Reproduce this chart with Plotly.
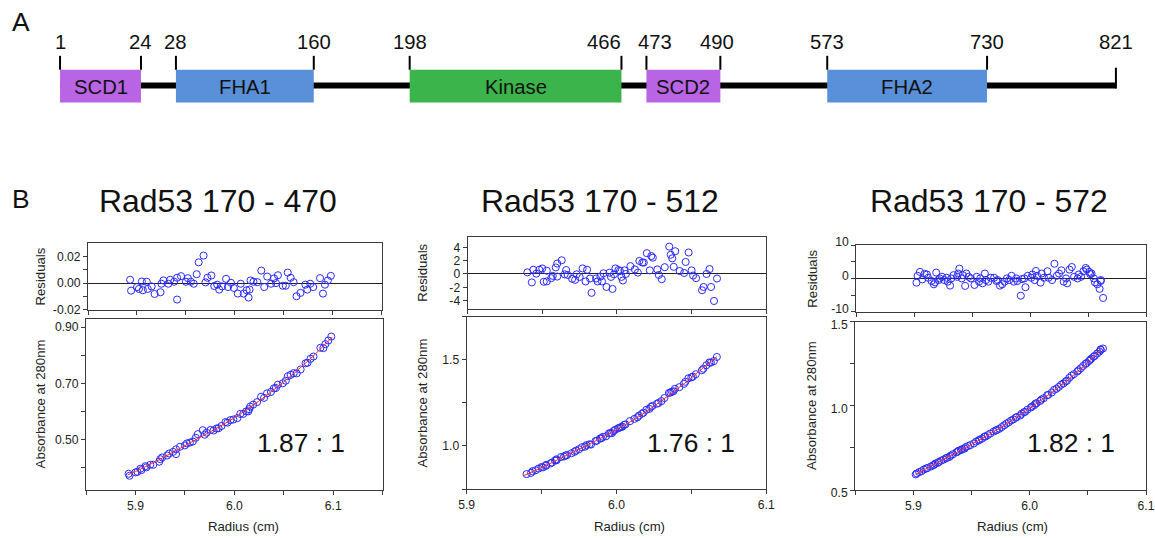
import numpy as np
import plotly.graph_objects as go

# ---------------- Panel A: Rad53 domain architecture ----------------
domain_names = ["SCD1", "FHA1", "Kinase", "SCD2", "FHA2"]
domain_start = [1, 28, 198, 473, 573]
domain_end = [24, 160, 466, 490, 730]
domain_colors = ["#b964e5", "#5a90d9", "#3bb44b", "#b964e5", "#5a90d9"]
protein_length = 821
boundary_labels = [1, 24, 28, 160, 198, 466, 473, 490, 573, 730, 821]
# display positions of the boundaries (diagram is not drawn to scale)
boundary_display = [60, 141, 176, 314, 410, 622, 647, 721, 828, 988, 1117]
# small horizontal nudges of the number labels so that they do not collide
label_nudge = [0, 0, 0, 0, 0, -17, 9, -3, 0, 0, 0]

# ---------------- Panel B: sedimentation equilibrium ----------------
titles = ["Rad53 170 - 470", "Rad53 170 - 512", "Rad53 170 - 572"]
ratios = ["1.87 : 1", "1.76 : 1", "1.82 : 1"]

p1_x = [5.893, 5.894, 5.900, 5.902, 5.905, 5.906, 5.910, 5.911, 5.915, 5.918,
        5.924, 5.925, 5.927, 5.932, 5.934, 5.938, 5.941, 5.941, 5.945, 5.950,
        5.952, 5.955, 5.958, 5.961, 5.963, 5.968, 5.970, 5.972, 5.976, 5.979,
        5.982, 5.984, 5.987, 5.991, 5.993, 5.996, 5.999, 6.003, 6.006, 6.009,
        6.012, 6.014, 6.015, 6.016, 6.019, 6.023, 6.027, 6.030, 6.033, 6.037,
        6.040, 6.042, 6.044, 6.049, 6.052, 6.054, 6.057, 6.060, 6.063, 6.067,
        6.072, 6.074, 6.077, 6.080, 6.087, 6.090, 6.092, 6.095, 6.098]
p1_abs = [0.378, 0.371, 0.383, 0.385, 0.396, 0.391, 0.405, 0.401, 0.410, 0.410,
          0.421, 0.430, 0.436, 0.443, 0.450, 0.456, 0.465, 0.448, 0.474, 0.479,
          0.486, 0.489, 0.493, 0.506, 0.519, 0.533, 0.517, 0.524, 0.534, 0.532,
          0.539, 0.540, 0.548, 0.562, 0.560, 0.569, 0.571, 0.576, 0.591, 0.591,
          0.600, 0.600, 0.608, 0.617, 0.624, 0.633, 0.652, 0.648, 0.664, 0.669,
          0.682, 0.683, 0.695, 0.700, 0.709, 0.725, 0.730, 0.736, 0.735, 0.749,
          0.771, 0.773, 0.787, 0.795, 0.826, 0.825, 0.839, 0.852, 0.866]
p1_res = [0.0025, -0.0057, -0.0030, -0.0044, 0.0012, -0.0054, 0.0010, -0.0044, -0.0025, -0.0082,
          -0.0069, -0.0005, 0.0020, -0.0005, 0.0025, 0.0010, 0.0040, -0.0124, 0.0052, 0.0010,
          0.0037, 0.0010, -0.0005, 0.0067, 0.0156, 0.0207, 0.0005, 0.0040, 0.0057, -0.0022,
          -0.0012, -0.0049, -0.0025, 0.0032, -0.0030, 0.0002, -0.0037, -0.0079, -0.0005, -0.0079,
          -0.0054, -0.0109, -0.0049, 0.0020, 0.0010, 0.0007, 0.0094, -0.0030, 0.0049, -0.0005,
          0.0035, 0.0000, 0.0059, -0.0020, -0.0020, 0.0079, 0.0040, 0.0007, -0.0099, -0.0074,
          -0.0012, -0.0049, -0.0005, -0.0030, 0.0037, -0.0079, -0.0012, 0.0020, 0.0054]
p1_fit_x = [5.892, 5.900, 5.925, 5.950, 5.975, 6.000, 6.025, 6.050, 6.075, 6.099]
p1_fit_y = [0.374, 0.386, 0.430, 0.478, 0.526, 0.577, 0.637, 0.705, 0.781, 0.864]

p2_x = [5.940, 5.943, 5.944, 5.946, 5.948, 5.950, 5.951, 5.953, 5.953, 5.956,
        5.957, 5.959, 5.960, 5.960, 5.963, 5.965, 5.966, 5.967, 5.970, 5.972,
        5.973, 5.975, 5.977, 5.979, 5.980, 5.982, 5.983, 5.986, 5.987, 5.989,
        5.990, 5.991, 5.993, 5.995, 5.996, 5.997, 5.998, 5.999, 6.001, 6.002,
        6.003, 6.004, 6.005, 6.006, 6.009, 6.012, 6.014, 6.015, 6.017, 6.018,
        6.020, 6.022, 6.023, 6.024, 6.027, 6.028, 6.030, 6.032, 6.035, 6.036,
        6.037, 6.038, 6.039, 6.042, 6.045, 6.046, 6.048, 6.050, 6.051, 6.053,
        6.057, 6.058, 6.060, 6.062, 6.063, 6.065, 6.067]
p2_abs = [0.837, 0.844, 0.854, 0.859, 0.869, 0.878, 0.876, 0.885, 0.890, 0.899,
          0.904, 0.916, 0.917, 0.923, 0.936, 0.939, 0.945, 0.947, 0.958, 0.966,
          0.973, 0.981, 0.993, 0.996, 1.005, 1.010, 1.008, 1.028, 1.031, 1.043,
          1.045, 1.053, 1.056, 1.073, 1.075, 1.074, 1.086, 1.093, 1.102, 1.106,
          1.109, 1.112, 1.122, 1.125, 1.144, 1.157, 1.166, 1.176, 1.187, 1.193,
          1.210, 1.215, 1.227, 1.232, 1.245, 1.249, 1.260, 1.278, 1.307, 1.310,
          1.315, 1.317, 1.331, 1.341, 1.360, 1.372, 1.392, 1.398, 1.402, 1.416,
          1.439, 1.448, 1.468, 1.484, 1.483, 1.492, 1.516]
p2_res = [0.24, -1.27, 0.63, 0.05, 0.63, 0.83, -1.17, -1.12, 0.49, -0.63,
          -0.29, 0.98, -0.39, 1.56, 2.05, -0.05, 0.59, -0.15, -0.73, -0.88,
          -0.05, -0.44, 0.83, -1.12, 0.63, -0.68, -2.83, -0.68, -1.12, -0.39,
          -1.12, 0.10, -1.95, 0.20, -0.44, -2.24, -0.05, 0.83, 0.59, 0.44,
          -0.44, -0.98, 0.54, 0.00, 1.17, 0.68, 0.20, 1.95, 1.71, 1.71,
          3.12, 0.54, 2.68, 2.44, 0.68, -0.15, -0.78, 1.02, 4.10, 2.88,
          2.34, 1.07, 3.41, 0.44, 0.15, 1.80, 3.22, 0.54, -0.24, -0.63,
          -2.44, -1.95, 0.00, 0.73, -1.95, -4.05, -0.68]
p2_fit_x = [5.938, 5.950, 5.970, 5.985, 6.000, 6.015, 6.030, 6.045, 6.055, 6.067]
p2_fit_y = [0.828, 0.875, 0.960, 1.025, 1.095, 1.170, 1.262, 1.360, 1.432, 1.518]

p3_x = [5.902, 5.903, 5.905, 5.907, 5.909, 5.911, 5.912, 5.915, 5.917, 5.918,
        5.919, 5.921, 5.922, 5.924, 5.926, 5.928, 5.929, 5.931, 5.932, 5.934,
        5.937, 5.938, 5.939, 5.941, 5.942, 5.944, 5.945, 5.947, 5.949, 5.952,
        5.954, 5.956, 5.957, 5.959, 5.961, 5.962, 5.964, 5.966, 5.969, 5.971,
        5.972, 5.974, 5.976, 5.978, 5.980, 5.982, 5.984, 5.986, 5.988, 5.989,
        5.992, 5.993, 5.995, 5.996, 5.998, 6.001, 6.002, 6.004, 6.005, 6.006,
        6.009, 6.010, 6.012, 6.015, 6.016, 6.019, 6.021, 6.023, 6.025, 6.027,
        6.029, 6.031, 6.032, 6.034, 6.036, 6.038, 6.041, 6.042, 6.044, 6.046,
        6.048, 6.049, 6.051, 6.052, 6.053, 6.055, 6.056, 6.058, 6.060, 6.061,
        6.061, 6.063]
p3_abs = [0.593, 0.599, 0.607, 0.612, 0.622, 0.628, 0.631, 0.640, 0.647, 0.651,
          0.658, 0.662, 0.667, 0.675, 0.681, 0.689, 0.692, 0.697, 0.704, 0.713,
          0.724, 0.728, 0.734, 0.738, 0.743, 0.746, 0.755, 0.761, 0.767, 0.777,
          0.788, 0.794, 0.799, 0.805, 0.817, 0.818, 0.826, 0.835, 0.847, 0.854,
          0.858, 0.864, 0.874, 0.884, 0.894, 0.902, 0.913, 0.920, 0.930, 0.934,
          0.943, 0.953, 0.962, 0.964, 0.977, 0.990, 0.996, 1.004, 1.013, 1.016,
          1.029, 1.037, 1.045, 1.063, 1.065, 1.079, 1.095, 1.101, 1.112, 1.125,
          1.133, 1.145, 1.149, 1.166, 1.179, 1.188, 1.204, 1.211, 1.223, 1.237,
          1.249, 1.254, 1.266, 1.273, 1.280, 1.292, 1.297, 1.310, 1.322, 1.332,
          1.334, 1.340]
p3_res = [-1.27, 0.78, 1.96, -0.29, 1.37, 1.18, 0.20, -0.78, -1.76, -1.18,
          1.76, -0.49, 0.00, 0.49, -0.49, 0.20, -0.98, -2.16, 0.00, 0.98,
          0.49, 1.47, 2.94, 0.00, 0.98, -2.25, 1.47, 0.49, 0.00, -1.96,
          0.49, -0.98, 0.00, -1.47, 1.47, -0.49, -0.98, 0.20, 0.20, -0.78,
          -0.49, -2.16, -1.76, -0.98, 0.00, -0.49, 0.78, -0.98, 0.00, -0.78,
          -5.20, -0.20, 0.00, -2.65, 0.78, 0.20, 1.18, -0.49, 2.25, 0.78,
          -1.27, 1.47, 0.20, 2.16, 0.20, -0.49, 4.41, 0.78, 1.47, 2.45,
          -0.98, 0.00, -1.47, 2.65, 3.43, 0.49, 0.00, 1.18, 0.49, 2.16,
          3.14, 2.65, 1.96, 1.27, 1.47, 0.00, -1.18, -1.76, -3.14, -0.78,
          -0.49, -5.88]
p3_fit_x = [5.902, 5.925, 5.950, 5.975, 6.000, 6.025, 6.050, 6.062]
p3_fit_y = [0.594, 0.678, 0.771, 0.871, 0.985, 1.110, 1.257, 1.340]

# axis settings per panel
x_ranges = [[5.85, 6.15], [5.9, 6.1], [5.85, 6.1]]
x_ticks = [[5.85, 5.9, 5.95, 6.0, 6.05, 6.1, 6.15],
           [5.9, 5.95, 6.0, 6.05, 6.1],
           [5.85, 5.9, 5.95, 6.0, 6.05, 6.1]]
x_ticktext = [["", "5.9", "", "6.0", "", "6.1", ""],
              ["5.9", "", "6.0", "", "6.1"],
              ["", "5.9", "", "6.0", "", "6.1"]]
res_ranges = [[-0.02, 0.03], [-5.2, 5.5], [-10, 10]]
res_ticks = [[-0.02, -0.01, 0.0, 0.01, 0.02], [-4, -2, 0, 2, 4], [-10, -5, 0, 5, 10]]
res_ticktext = [["-0.02", "", "0.00", "", "0.02"], ["-4", "-2", "0", "2", "4"],
                ["-10", "", "0", "", "10"]]
abs_ranges = [[0.32, 0.93], [0.75, 1.75], [0.5, 1.5]]
abs_ticks = [[0.4, 0.5, 0.6, 0.7, 0.8, 0.9], [0.75, 1.0, 1.25, 1.5, 1.75],
             [0.5, 0.75, 1.0, 1.25, 1.5]]
abs_ticktext = [["", "0.50", "", "0.70", "", "0.90"], ["", "1.0", "", "1.5", ""],
                ["0.5", "", "1.0", "", "1.5"]]
# vertical nudges (px, positive = downwards) of tick labels to keep neighbours apart
res_label_shift = [0, 0, -3]
abs_label_shift = [0, 0, 3]

data = [(p1_x, p1_abs, p1_res, p1_fit_x, p1_fit_y),
        (p2_x, p2_abs, p2_res, p2_fit_x, p2_fit_y),
        (p3_x, p3_abs, p3_res, p3_fit_x, p3_fit_y)]

# ---------------- layout geometry ----------------
# Layout positions below are given in picture pixels (1155 x 538).  The photographed
# area carries an extra 8px frame around the page, so positions are converted to
# figure pixels with that frame taken into account.
W, H = 1155, 538
FRAME = 8
SX = (W + 2 * FRAME) / W
SY = (H + 2 * FRAME) / H
FS = SX  # font scale
FONT = "Liberation Sans, Arial, Helvetica, sans-serif"


def fx(px):
    return min(1.0, max(0.0, (px * SX - FRAME) / W))


def fy(py):
    return min(1.0, max(0.0, 1 - (py * SY - FRAME) / H))


geo = [
    dict(res_x=(88, 382), res_y=(243, 310), main_x=(86, 383), main_y=(319, 492),
         title_x=218, ratio_x=301, lab_x=40, rad_x=244),
    dict(res_x=(468, 767), res_y=(237, 309), main_x=(467, 767), main_y=(317, 491),
         title_x=601, ratio_x=692, lab_x=423, rad_x=630),
    dict(res_x=(857, 1149), res_y=(245, 312), main_x=(856, 1149), main_y=(322, 492),
         title_x=990, ratio_x=1072, lab_x=813, rad_x=1013),
]


def ax_name(kind, i):
    return kind + ("" if i == 1 else str(i))


fig = go.Figure()
layout = {}
annotations = []
marker = dict(symbol="circle-open", size=7 * FS, color="#2a2aff",
              line=dict(width=1, color="#2a2aff"))
axis_common = dict(showline=True, mirror=True, linecolor="#3a3a3a", linewidth=1,
                   ticks="outside", ticklen=4, tickcolor="#3a3a3a", showgrid=False,
                   tickfont=dict(family=FONT, size=12 * FS, color="#222"), tickmode="array",
                   fixedrange=True)

for k in range(3):
    g = geo[k]
    xs, ab, rs, fxv, fyv = data[k]
    r = 2 * k + 1
    m = 2 * k + 2
    fig.add_trace(go.Scatter(x=xs, y=rs, mode="markers", marker=marker,
                             xaxis=ax_name("x", r), yaxis=ax_name("y", r), showlegend=False))
    fig.add_trace(go.Scatter(x=xs, y=ab, mode="markers", marker=marker,
                             xaxis=ax_name("x", m), yaxis=ax_name("y", m), showlegend=False))
    fig.add_trace(go.Scatter(x=fxv, y=fyv, mode="lines",
                             line=dict(color="#ff2a2a", width=1, shape="spline"),
                             xaxis=ax_name("x", m), yaxis=ax_name("y", m), showlegend=False))

    layout[ax_name("xaxis", r)] = dict(axis_common, domain=[fx(g["res_x"][0]), fx(g["res_x"][1])],
                                       range=x_ranges[k], anchor=ax_name("y", r),
                                       tickvals=x_ticks[k], ticktext=[""] * len(x_ticks[k]),
                                       zeroline=False)
    layout[ax_name("yaxis", r)] = dict(axis_common, domain=[fy(g["res_y"][1]), fy(g["res_y"][0])],
                                       range=res_ranges[k], anchor=ax_name("x", r),
                                       tickvals=res_ticks[k], ticktext=res_ticktext[k],
                                       ticklabelshift=res_label_shift[k],
                                       zeroline=True, zerolinecolor="#222", zerolinewidth=1)
    layout[ax_name("xaxis", m)] = dict(axis_common, domain=[fx(g["main_x"][0]), fx(g["main_x"][1])],
                                       range=x_ranges[k], anchor=ax_name("y", m),
                                       tickvals=x_ticks[k], ticktext=x_ticktext[k],
                                       zeroline=False)
    layout[ax_name("yaxis", m)] = dict(axis_common, domain=[fy(g["main_y"][1]), fy(g["main_y"][0])],
                                       range=abs_ranges[k], anchor=ax_name("x", m),
                                       tickvals=abs_ticks[k], ticktext=abs_ticktext[k],
                                       ticklabelshift=abs_label_shift[k],
                                       zeroline=False)

    annotations += [
        dict(text=titles[k], x=fx(g["title_x"]), y=fy(200), xref="paper", yref="paper",
             showarrow=False, xanchor="center", yanchor="middle",
             font=dict(family=FONT, size=31.5 * FS, color="#111")),
        dict(text=ratios[k], x=fx(g["ratio_x"]), y=fy(445), xref="paper", yref="paper",
             showarrow=False, xanchor="center", yanchor="middle",
             font=dict(family=FONT, size=26 * FS, color="#111")),
        dict(text="Residuals", x=fx(g["lab_x"]), y=fy((g["res_y"][0] + g["res_y"][1]) / 2),
             xref="paper", yref="paper", showarrow=False, textangle=-90,
             xanchor="center", yanchor="middle",
             font=dict(family=FONT, size=13 * FS, color="#222")),
        dict(text="Absorbance at 280nm", x=fx(g["lab_x"]),
             y=fy((g["main_y"][0] + g["main_y"][1]) / 2), xref="paper", yref="paper",
             showarrow=False, textangle=-90, xanchor="center", yanchor="middle",
             font=dict(family=FONT, size=13 * FS, color="#222")),
        dict(text="Radius (cm)", x=fx(g["rad_x"]), y=fy(529), xref="paper", yref="paper",
             showarrow=False, xanchor="center", yanchor="middle",
             font=dict(family=FONT, size=13 * FS, color="#222")),
    ]

# ---------------- Panel A drawing (overlay axis in picture-pixel units) ----------------
layout["xaxis7"] = dict(domain=[0, 1], range=[FRAME / SX, (W + FRAME) / SX], visible=False,
                        fixedrange=True, anchor="y7")
layout["yaxis7"] = dict(domain=[0, 1], range=[(H + FRAME) / SY, FRAME / SY], visible=False,
                        fixedrange=True, anchor="x7")


def disp(res):
    return float(np.interp(res, boundary_labels, boundary_display))


shapes = []
shapes.append(dict(type="line", xref="x7", yref="y7", x0=disp(1), x1=disp(protein_length),
                   y0=84, y1=84, line=dict(color="black", width=6), layer="above"))
for name, s, e, c in zip(domain_names, domain_start, domain_end, domain_colors):
    shapes.append(dict(type="rect", xref="x7", yref="y7", x0=disp(s), x1=disp(e),
                       y0=68, y1=101, fillcolor=c, line=dict(width=0), layer="above"))
    annotations.append(dict(text=name, x=(disp(s) + disp(e)) / 2, y=85, xref="x7", yref="y7",
                            showarrow=False, xanchor="center", yanchor="middle",
                            font=dict(family=FONT, size=20 * FS, color="#111")))
for b, nudge in zip(boundary_labels, label_nudge):
    if b == protein_length:
        shapes.append(dict(type="line", xref="x7", yref="y7", x0=disp(b), x1=disp(b),
                           y0=66, y1=87, line=dict(color="black", width=2), layer="above"))
    else:
        shapes.append(dict(type="line", xref="x7", yref="y7", x0=disp(b), x1=disp(b),
                           y0=54, y1=68, line=dict(color="black", width=2), layer="above"))
    annotations.append(dict(text=str(b), x=disp(b) + nudge, y=40, xref="x7", yref="y7",
                            showarrow=False, xanchor="center", yanchor="middle",
                            font=dict(family=FONT, size=20 * FS, color="#111")))

annotations += [
    dict(text="A", x=fx(21), y=fy(20), xref="paper", yref="paper", showarrow=False,
         xanchor="center", yanchor="middle", font=dict(family=FONT, size=26 * FS, color="#111")),
    dict(text="B", x=fx(21), y=fy(198), xref="paper", yref="paper", showarrow=False,
         xanchor="center", yanchor="middle", font=dict(family=FONT, size=26 * FS, color="#111")),
]

fig.update_layout(
    width=W, height=H, margin=dict(l=0, r=0, t=0, b=0),
    paper_bgcolor="white", plot_bgcolor="rgba(0,0,0,0)",
    showlegend=False, shapes=shapes, annotations=annotations,
    font=dict(family=FONT), **layout,
)

fig.write_html("out.html", config={"displayModeBar": False},
               post_script="document.body.style.margin='0';")
